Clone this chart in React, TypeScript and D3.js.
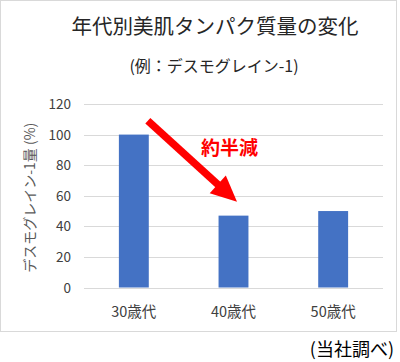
import { useEffect, useRef } from "react"
import * as d3 from "d3"

const categories = ["30歳代", "40歳代", "50歳代"]
const values = [100, 47, 50]
const yTicks = [0, 20, 40, 60, 80, 100, 120]

const title = "年代別美肌タンパク質量の変化"
const subtitle = "(例：デスモグレイン-1)"
const yLabel = "デスモグレイン-1量 (%)"
const note = "約半減"
const source = "(当社調べ)"

const W = 400
const H = 362
const FONT = "'Noto Sans CJK JP', 'Noto Sans', sans-serif"

export default function App() {
  const svgRef = useRef<SVGSVGElement>(null)

  useEffect(() => {
    document.body.style.margin = "0"
    if (!svgRef.current) return
    const svg = d3.select(svgRef.current)
    svg.selectAll("*").remove()

    // chart frame
    svg.append("rect")
      .attr("x", 0.5).attr("y", 0.5)
      .attr("width", 396).attr("height", 331)
      .attr("fill", "white")
      .attr("stroke", "#D9D9D9")

    svg.append("text")
      .attr("x", 215).attr("y", 34)
      .attr("text-anchor", "middle")
      .attr("font-family", FONT)
      .attr("font-size", 20.5)
      .attr("fill", "#262626")
      .text(title)

    svg.append("text")
      .attr("x", 214).attr("y", 72)
      .attr("text-anchor", "middle")
      .attr("font-family", FONT)
      .attr("font-size", 16)
      .attr("fill", "#262626")
      .text(subtitle)

    const x = d3.scaleBand<string>()
      .domain(categories)
      .range([84, 383])
      .paddingInner(0.7)
      .paddingOuter(0.35)

    const y = d3.scaleLinear().domain([0, 120]).range([287.5, 104])

    // gridlines
    svg.append("g")
      .selectAll("line")
      .data(yTicks)
      .join("line")
      .attr("x1", 84).attr("x2", 383)
      .attr("y1", (d) => Math.round(y(d)) + 0.5)
      .attr("y2", (d) => Math.round(y(d)) + 0.5)
      .attr("stroke", "#D9D9D9")
      .attr("stroke-width", 1)

    // y tick labels
    svg.append("g")
      .selectAll("text")
      .data(yTicks)
      .join("text")
      .attr("x", 71)
      .attr("y", (d) => y(d) + 5)
      .attr("text-anchor", "end")
      .attr("font-family", FONT)
      .attr("font-size", 13.5)
      .attr("fill", "#404040")
      .text((d) => d)

    // bars
    svg.append("g")
      .selectAll("rect")
      .data(values)
      .join("rect")
      .attr("x", (d, i) => x(categories[i])!)
      .attr("y", (d) => y(d))
      .attr("width", x.bandwidth())
      .attr("height", (d) => y(0) - y(d))
      .attr("fill", "#4472C4")

    // x labels
    svg.append("g")
      .selectAll("text")
      .data(categories)
      .join("text")
      .attr("x", (d) => x(d)! + x.bandwidth() / 2)
      .attr("y", 317)
      .attr("text-anchor", "middle")
      .attr("font-family", FONT)
      .attr("font-size", 14.5)
      .attr("fill", "#404040")
      .text((d) => d)

    // y axis title
    svg.append("text")
      .attr("transform", `translate(35,${(y(0) + y(120)) / 2 + 2}) rotate(-90)`)
      .attr("text-anchor", "middle")
      .attr("font-family", FONT)
      .attr("font-size", 14)
      .attr("fill", "#595959")
      .text(yLabel)

    // red arrow annotation
    const x0 = x(categories[0])! + x.bandwidth() / 2 + 14
    const y0 = y(109)
    const x1 = x(categories[1])! + x.bandwidth() / 2 + 3.5
    const y1 = y(56)
    const ang = Math.atan2(y1 - y0, x1 - x0)
    const headLen = 26
    const headHalf = 12
    const bx = x1 - headLen * Math.cos(ang)
    const by = y1 - headLen * Math.sin(ang)
    const px = -Math.sin(ang)
    const py = Math.cos(ang)

    svg.append("line")
      .attr("x1", x0).attr("y1", y0)
      .attr("x2", bx + 2 * Math.cos(ang)).attr("y2", by + 2 * Math.sin(ang))
      .attr("stroke", "#FF0000")
      .attr("stroke-width", 7.5)

    svg.append("path")
      .attr("d", `M${x1},${y1}L${bx + px * headHalf},${by + py * headHalf}L${bx - px * headHalf},${by - py * headHalf}Z`)
      .attr("fill", "#FF0000")

    svg.append("text")
      .attr("x", 201).attr("y", 155)
      .attr("font-family", FONT)
      .attr("font-size", 19)
      .attr("font-weight", "bold")
      .attr("fill", "#FF0000")
      .text(note)

    svg.append("text")
      .attr("x", 394).attr("y", 356)
      .attr("text-anchor", "end")
      .attr("font-family", FONT)
      .attr("font-size", 18)
      .attr("fill", "#000000")
      .text(source)
  }, [])

  return <svg ref={svgRef} width={W} height={H} style={{ display: "block" }} />
}
